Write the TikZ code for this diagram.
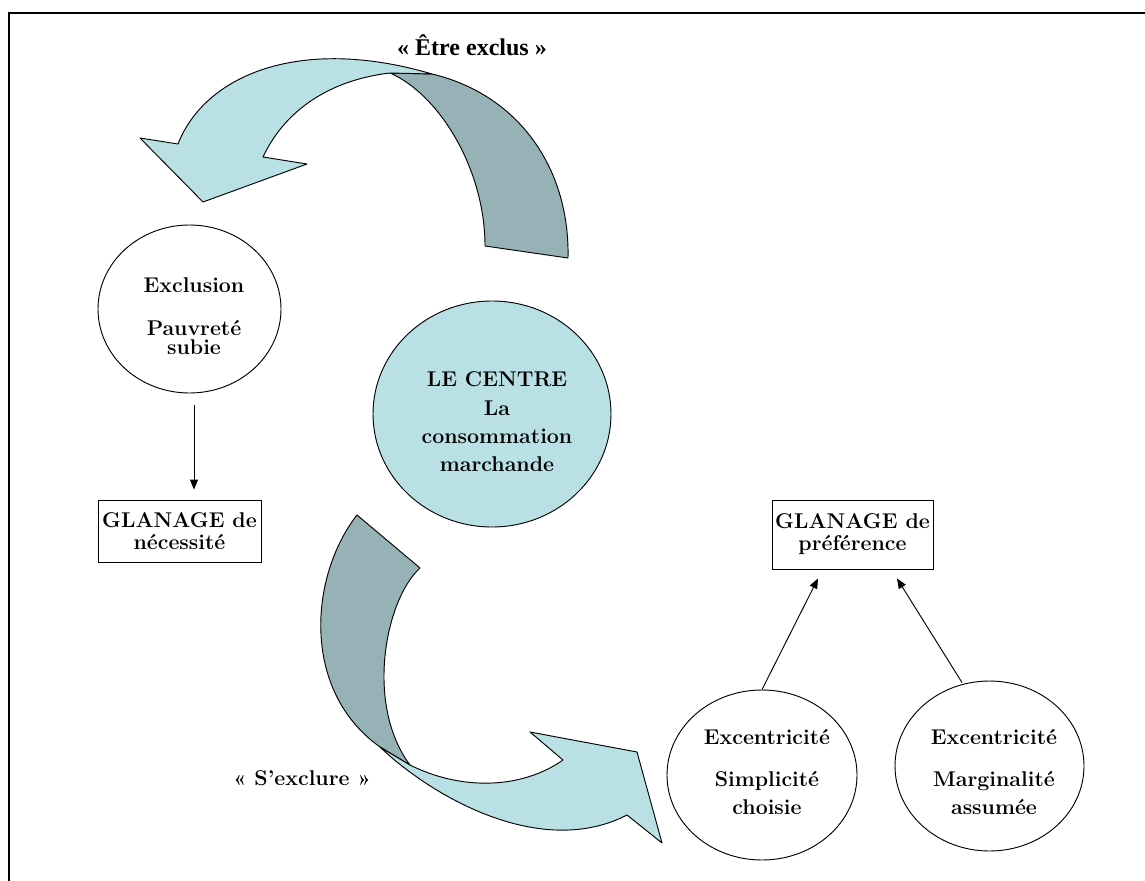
\documentclass[tikz,border=0pt]{standalone}
\usepackage{fontspec}
\newfontfamily\timesf{Liberation Serif}
\usetikzlibrary{shapes.geometric,arrows.meta,calc}
\definecolor{lightb}{HTML}{B9E0E4}
\definecolor{darkb}{HTML}{96B2B6}
\begin{document}
\begin{tikzpicture}[x=0.75pt,y=-0.75pt,
  shp/.style={draw=black,line width=0.7pt,inner sep=0pt},
  oval/.style={shp,ellipse},
  boxn/.style={shp,rectangle,align=center,font=\bfseries\fontsize{16}{16.5}\selectfont},
  lbl/.style={inner sep=0pt,align=center,font=\bfseries\fontsize{16}{#1}\selectfont},
  band/.style={draw=black,line width=0.7pt,line join=round},
  conn/.style={draw=black,line width=0.7pt,-{Triangle[length=7.5pt,width=6pt]}}]
\useasboundingbox (0,0) rectangle (1145,881);
% frame
\draw[line width=1.5pt] (8.5,881) -- (8.5,13.5) -- (1145,13.5);

% top curved arrow ("Etre exclus")
\path[band,fill=darkb] (390,73) .. controls (440,95) and (485,170) .. (485,246)
  -- (568,258) .. controls (570,170) and (520,95) .. (432,74) -- cycle;
\path[band,fill=lightb] (390,73) .. controls (330,80) and (285,110) .. (263,157)
  -- (307,164) -- (203,202) -- (140,138) -- (178,144)
  .. controls (205,75) and (300,35) .. (432,74) -- cycle;

% bottom curved arrow ("S'exclure")
\path[band,fill=darkb] (357,515) -- (420,568) .. controls (385,600) and (365,705) .. (410,765)
  -- (380,747) .. controls (300,690) and (310,575) .. (357,515) -- cycle;
\path[band,fill=lightb] (380,747) .. controls (430,795) and (540,860) .. (627,815)
  -- (662,843) -- (637,752) -- (530,732) -- (563,760)
  .. controls (520,790) and (460,790) .. (410,765) -- cycle;

% shapes
\node[oval,minimum width=137.25pt,minimum height=126pt] (e1) at (189.5,309) {};
\node[oval,fill=lightb,minimum width=178.5pt,minimum height=169.5pt] (ec) at (492,414) {};
\node[oval,minimum width=142.5pt,minimum height=127.5pt] (e3) at (762,775) {};
\node[oval,minimum width=141.75pt,minimum height=127.5pt] (e4) at (989.5,766) {};
\node[boxn,minimum width=122.25pt,minimum height=46.5pt] (b1) at (179.5,531) {GLANAGE de\\nécessité};
\node[boxn,minimum width=120.75pt,minimum height=51.75pt] (b2) at (852.5,534.5) {GLANAGE de\\préférence};

% texts
\node[lbl=14.25pt] (t1) at (194,316.5) {Exclusion\\[18pt]Pauvreté\\subie};
\node[lbl=21.25pt] (tc) at (497,421.9) {LE CENTRE\\La\\consommation\\marchande};
\node[lbl=20.8pt] (t3) at (767,772.2) {Excentricité\\[11pt]Simplicité\\choisie};
\node[lbl=20.8pt] (t4) at (994,772.2) {Excentricité\\[11pt]Marginalité\\assumée};
\node[inner sep=0pt,anchor=base,font=\timesf\bfseries\fontsize{18}{20}\selectfont] (lex) at (472,56) {«~Être exclus~»};
\node[inner sep=0pt,anchor=base,font=\bfseries\fontsize{16}{18}\selectfont] (lsx) at (302,785) {«~S’exclure~»};

% connectors
\draw[conn] ($(e1.south)+(4.5,12)$) -- ($(b1.north)+(14.5,-10)$);
\draw[conn] (e3.north) -- ($(b2.south)+(-34.5,9)$);
\draw[conn] ($(e4.north)+(-27.5,2)$) -- ($(b2.south)+(44.5,9)$);
\end{tikzpicture}
\end{document}
